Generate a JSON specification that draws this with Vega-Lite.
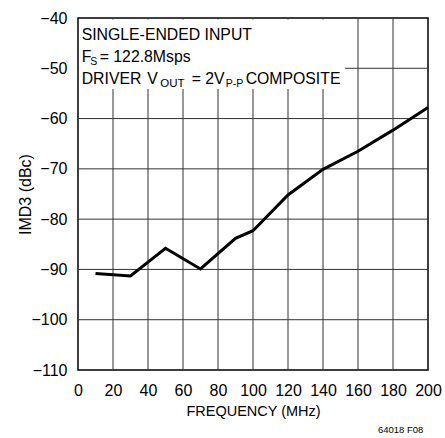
{
  "$schema": "https://vega.github.io/schema/vega-lite/v6.json",
  "width": 350,
  "height": 352,
  "autosize": {"type": "none"},
  "padding": {"left": 78, "top": 18, "right": 17, "bottom": 68},
  "background": "white",
  "config": {
    "font": "Liberation Sans",
    "view": {"stroke": "#000", "strokeWidth": 1.5},
    "text": {"font": "Liberation Sans", "fontWeight": "normal"},
    "axis": {
      "grid": false,
      "domain": false, "ticks": false, "labelFlush": false,
      "labelFont": "Liberation Sans", "labelFontSize": 16, "labelColor": "#000",
      "titleFont": "Liberation Sans", "titleFontWeight": "normal", "titleColor": "#000"
    },
    "axisX": {"labelPadding": 12, "titlePadding": 6, "titleFontSize": 14.5},
    "axisY": {"labelPadding": 11, "titlePadding": -3, "titleFontSize": 16}
  },
  "title": {
    "text": "64018 F08",
    "orient": "bottom",
    "anchor": "end",
    "fontSize": 9.5,
    "fontWeight": "normal",
    "font": "Liberation Sans",
    "color": "#000",
    "offset": 7,
    "dx": -18
  },
  "layer": [
    {
      "data": {"values": [{"gx": 20}, {"gx": 40}, {"gx": 60}, {"gx": 80}, {"gx": 100}, {"gx": 120}, {"gx": 140}, {"gx": 160}, {"gx": 180}]},
      "mark": {"type": "rule", "color": "#333", "strokeWidth": 1},
      "encoding": {
        "x": {"field": "gx", "type": "quantitative", "scale": {"domain": [0, 200], "nice": false, "zero": false},
          "axis": {"values": [0,20,40,60,80,100,120,140,160,180,200], "grid": false, "labelOverlap": false, "title": "FREQUENCY (MHz)"}}
      }
    },
    {
      "data": {"values": [{"gy": -100}, {"gy": -90}, {"gy": -80}, {"gy": -70}, {"gy": -60}, {"gy": -50}]},
      "mark": {"type": "rule", "color": "#333", "strokeWidth": 1},
      "encoding": {
        "y": {"field": "gy", "type": "quantitative", "scale": {"domain": [-110, -40], "nice": false, "zero": false},
          "axis": {"values": [-110,-100,-90,-80,-70,-60,-50,-40], "grid": false, "labelOverlap": false, "title": "IMD3 (dBc)"}}
      }
    },
    {
      "data": {
        "values": [
          {"freq": 10, "imd3": -90.8},
          {"freq": 30, "imd3": -91.3},
          {"freq": 50, "imd3": -85.8},
          {"freq": 70, "imd3": -89.9},
          {"freq": 90, "imd3": -83.8},
          {"freq": 100, "imd3": -82.3},
          {"freq": 120, "imd3": -75.2},
          {"freq": 140, "imd3": -70.1},
          {"freq": 160, "imd3": -66.5},
          {"freq": 180, "imd3": -62.3},
          {"freq": 200, "imd3": -57.8}
        ]
      },
      "mark": {"type": "line", "color": "#000", "strokeWidth": 3},
      "encoding": {
        "x": {"field": "freq", "type": "quantitative", "scale": {"domain": [0, 200], "nice": false, "zero": false},
          "axis": {"values": [0,20,40,60,80,100,120,140,160,180,200], "grid": false, "labelOverlap": false, "title": "FREQUENCY (MHz)"}},
        "y": {"field": "imd3", "type": "quantitative", "scale": {"domain": [-110, -40], "nice": false, "zero": false},
          "axis": {"values": [-110,-100,-90,-80,-70,-60,-50,-40], "grid": false, "labelOverlap": false, "title": "IMD3 (dBc)"}}
      }
    },
    {
      "data": {"values": [{}]},
      "mark": {"type": "rect", "fill": "white"},
      "encoding": {
        "x": {"datum": 0.6, "type": "quantitative", "axis": {"values": [0,20,40,60,80,100,120,140,160,180,200], "grid": false, "labelOverlap": false, "title": "FREQUENCY (MHz)"}},
        "x2": {"datum": 152.6},
        "y": {"datum": -40.3, "type": "quantitative", "axis": {"values": [-110,-100,-90,-80,-70,-60,-50,-40], "grid": false, "labelOverlap": false, "title": "IMD3 (dBc)"}},
        "y2": {"datum": -54.1}
      }
    },
    {
      "data": {"values": [{}]},
      "mark": {"type": "text", "align": "left", "baseline": "alphabetic", "fontSize": 15.8, "color": "#000"},
      "encoding": {
        "x": {"datum": 2.1, "type": "quantitative", "axis": {"values": [0,20,40,60,80,100,120,140,160,180,200], "grid": false, "labelOverlap": false, "title": "FREQUENCY (MHz)"}},
        "y": {"datum": -44.43, "type": "quantitative", "axis": {"values": [-110,-100,-90,-80,-70,-60,-50,-40], "grid": false, "labelOverlap": false, "title": "IMD3 (dBc)"}},
        "text": {"value": "SINGLE-ENDED INPUT"}}
    },
    {
      "data": {"values": [{}]},
      "mark": {"type": "text", "align": "left", "baseline": "alphabetic", "fontSize": 15.8, "color": "#000"},
      "encoding": {
        "x": {"datum": 2.1, "type": "quantitative", "axis": {"values": [0,20,40,60,80,100,120,140,160,180,200], "grid": false, "labelOverlap": false, "title": "FREQUENCY (MHz)"}},
        "y": {"datum": -48.81, "type": "quantitative", "axis": {"values": [-110,-100,-90,-80,-70,-60,-50,-40], "grid": false, "labelOverlap": false, "title": "IMD3 (dBc)"}},
        "text": {"value": "F"}}
    },
    {
      "data": {"values": [{}]},
      "mark": {"type": "text", "align": "left", "baseline": "alphabetic", "fontSize": 10.5, "dy": 3, "color": "#000"},
      "encoding": {
        "x": {"datum": 6.97, "type": "quantitative", "axis": {"values": [0,20,40,60,80,100,120,140,160,180,200], "grid": false, "labelOverlap": false, "title": "FREQUENCY (MHz)"}},
        "y": {"datum": -48.81, "type": "quantitative", "axis": {"values": [-110,-100,-90,-80,-70,-60,-50,-40], "grid": false, "labelOverlap": false, "title": "IMD3 (dBc)"}},
        "text": {"value": "S"}}
    },
    {
      "data": {"values": [{}]},
      "mark": {"type": "text", "align": "left", "baseline": "alphabetic", "fontSize": 15.8, "color": "#000"},
      "encoding": {
        "x": {"datum": 12.4, "type": "quantitative", "axis": {"values": [0,20,40,60,80,100,120,140,160,180,200], "grid": false, "labelOverlap": false, "title": "FREQUENCY (MHz)"}},
        "y": {"datum": -48.81, "type": "quantitative", "axis": {"values": [-110,-100,-90,-80,-70,-60,-50,-40], "grid": false, "labelOverlap": false, "title": "IMD3 (dBc)"}},
        "text": {"value": "= 122.8Msps"}}
    },
    {
      "data": {"values": [{}]},
      "mark": {"type": "text", "align": "left", "baseline": "alphabetic", "fontSize": 15.8, "color": "#000"},
      "encoding": {
        "x": {"datum": 2.1, "type": "quantitative", "axis": {"values": [0,20,40,60,80,100,120,140,160,180,200], "grid": false, "labelOverlap": false, "title": "FREQUENCY (MHz)"}},
        "y": {"datum": -53.08, "type": "quantitative", "axis": {"values": [-110,-100,-90,-80,-70,-60,-50,-40], "grid": false, "labelOverlap": false, "title": "IMD3 (dBc)"}},
        "text": {"value": "DRIVER"}}
    },
    {
      "data": {"values": [{}]},
      "mark": {"type": "text", "align": "left", "baseline": "alphabetic", "fontSize": 15.8, "color": "#000"},
      "encoding": {
        "x": {"datum": 39.6, "type": "quantitative", "axis": {"values": [0,20,40,60,80,100,120,140,160,180,200], "grid": false, "labelOverlap": false, "title": "FREQUENCY (MHz)"}},
        "y": {"datum": -53.08, "type": "quantitative", "axis": {"values": [-110,-100,-90,-80,-70,-60,-50,-40], "grid": false, "labelOverlap": false, "title": "IMD3 (dBc)"}},
        "text": {"value": "V"}}
    },
    {
      "data": {"values": [{}]},
      "mark": {"type": "text", "align": "left", "baseline": "alphabetic", "fontSize": 11.5, "dy": 3, "color": "#000"},
      "encoding": {
        "x": {"datum": 47.0, "type": "quantitative", "axis": {"values": [0,20,40,60,80,100,120,140,160,180,200], "grid": false, "labelOverlap": false, "title": "FREQUENCY (MHz)"}},
        "y": {"datum": -53.08, "type": "quantitative", "axis": {"values": [-110,-100,-90,-80,-70,-60,-50,-40], "grid": false, "labelOverlap": false, "title": "IMD3 (dBc)"}},
        "text": {"value": "OUT"}}
    },
    {
      "data": {"values": [{}]},
      "mark": {"type": "text", "align": "left", "baseline": "alphabetic", "fontSize": 15.8, "color": "#000"},
      "encoding": {
        "x": {"datum": 64.97, "type": "quantitative", "axis": {"values": [0,20,40,60,80,100,120,140,160,180,200], "grid": false, "labelOverlap": false, "title": "FREQUENCY (MHz)"}},
        "y": {"datum": -53.08, "type": "quantitative", "axis": {"values": [-110,-100,-90,-80,-70,-60,-50,-40], "grid": false, "labelOverlap": false, "title": "IMD3 (dBc)"}},
        "text": {"value": "= 2V"}}
    },
    {
      "data": {"values": [{}]},
      "mark": {"type": "text", "align": "left", "baseline": "alphabetic", "fontSize": 10.5, "dy": 3, "color": "#000"},
      "encoding": {
        "x": {"datum": 84.4, "type": "quantitative", "axis": {"values": [0,20,40,60,80,100,120,140,160,180,200], "grid": false, "labelOverlap": false, "title": "FREQUENCY (MHz)"}},
        "y": {"datum": -53.08, "type": "quantitative", "axis": {"values": [-110,-100,-90,-80,-70,-60,-50,-40], "grid": false, "labelOverlap": false, "title": "IMD3 (dBc)"}},
        "text": {"value": "P-P"}}
    },
    {
      "data": {"values": [{}]},
      "mark": {"type": "text", "align": "left", "baseline": "alphabetic", "fontSize": 15.8, "color": "#000"},
      "encoding": {
        "x": {"datum": 95.8, "type": "quantitative", "axis": {"values": [0,20,40,60,80,100,120,140,160,180,200], "grid": false, "labelOverlap": false, "title": "FREQUENCY (MHz)"}},
        "y": {"datum": -53.08, "type": "quantitative", "axis": {"values": [-110,-100,-90,-80,-70,-60,-50,-40], "grid": false, "labelOverlap": false, "title": "IMD3 (dBc)"}},
        "text": {"value": "COMPOSITE"}}
    }
  ]
}
